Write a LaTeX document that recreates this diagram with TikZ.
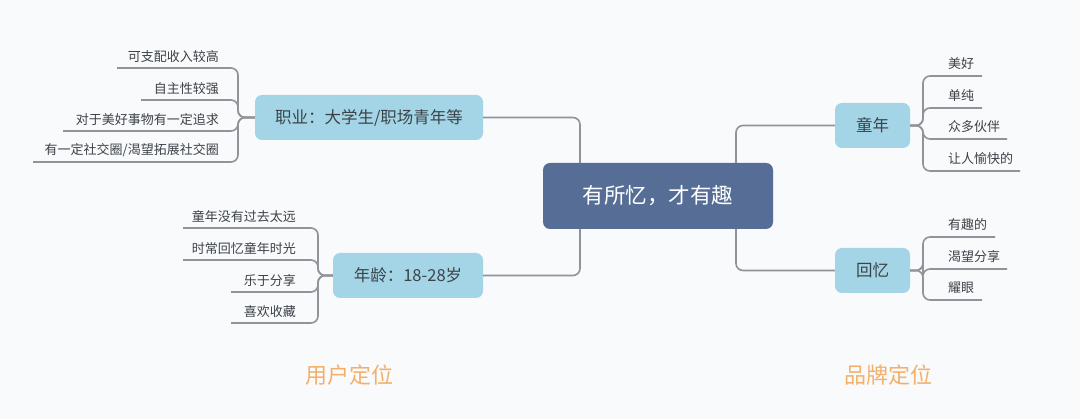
\documentclass[tikz,border=0pt]{standalone}
\usepackage{fontspec}
\setmainfont{Noto Sans CJK SC}
\begin{document}
\begin{tikzpicture}[x=1pt,y=-1pt,
  ln/.style={draw=lineg,line width=1.6pt,rounded corners=7pt},
  sub/.style={fill=subblue,rounded corners=7pt,font=\fontsize{16.5}{18}\selectfont,text=textg,inner sep=0pt},
  lf/.style={font=\fontsize{13}{14}\selectfont,text=textg,inner sep=0pt},
  lbl/.style={font=\fontsize{22}{24}\selectfont,text=orng}]
\definecolor{lineg}{HTML}{8E949A}
\definecolor{subblue}{HTML}{A3D5E6}
\definecolor{centb}{HTML}{566E95}
\definecolor{textg}{HTML}{3C4248}
\definecolor{orng}{HTML}{F4B06A}
\definecolor{bg}{HTML}{F8FAFC}
\fill[bg] (0,0) rectangle (1080,419);
\useasboundingbox (0,0) rectangle (1080,419);
% nodes
\node[sub,minimum width=228pt,minimum height=45pt] (job) at (369,117.5) {职业：大学生/职场青年等};
\node[sub,minimum width=150pt,minimum height=45pt] (age) at (408,275.5) {年龄：18-28岁};
\node[sub,minimum width=75pt,minimum height=45pt] (tn) at (872.5,125.5) {童年};
\node[sub,minimum width=75pt,minimum height=45pt] (hy) at (872.5,270.5) {回忆};
% trunks
\coordinate (cl) at (580,196);
\coordinate (cr) at (736,196);
\draw[ln] (cl) |- (job.east);
\draw[ln] (cl) |- (age.east);
\draw[ln] (cr) |- (tn.west);
\draw[ln] (cr) |- (hy.west);
\node[fill=centb,rounded corners=7pt,minimum width=230pt,minimum height=66pt,text=white,font=\fontsize{21.5}{24}\selectfont] (c) at (658,196) {有所忆，才有趣};
% left group 1
\coordinate (a1) at (117,68); \coordinate (a2) at (141,100); \coordinate (a3) at (63,131); \coordinate (a4) at (33,162);
\node[lf,anchor=south east] (t1) at (219,63) {可支配收入较高};
\node[lf,anchor=south east] (t2) at (219,95) {自主性较强};
\node[lf,anchor=south east] (t3) at (219,126) {对于美好事物有一定追求};
\node[lf,anchor=south east] (t4) at (219,157) {有一定社交圈/渴望拓展社交圈};
\foreach \i in {1,...,4} \draw[ln] (job.west) -- (238,117.5) |- (a\i);
% left group 2
\coordinate (b1) at (183,228); \coordinate (b2) at (183,260); \coordinate (b3) at (231,292); \coordinate (b4) at (231,323);
\node[lf,anchor=south east] (u1) at (296,223) {童年没有过去太远};
\node[lf,anchor=south east] (u2) at (296,255) {时常回忆童年时光};
\node[lf,anchor=south east] (u3) at (296,287) {乐于分享};
\node[lf,anchor=south east] (u4) at (296,318) {喜欢收藏};
\foreach \i in {1,...,4} \draw[ln] (age.west) -- (318,275.5) |- (b\i);
% right group 1
\coordinate (r1) at (982,76); \coordinate (r2) at (982,108); \coordinate (r3) at (1007,139); \coordinate (r4) at (1020,171);
\node[lf,anchor=south west] (v1) at (948,70) {美好};
\node[lf,anchor=south west] (v2) at (948,102) {单纯};
\node[lf,anchor=south west] (v3) at (948,133) {众多伙伴};
\node[lf,anchor=south west] (v4) at (948,165) {让人愉快的};
\foreach \i in {1,...,4} \draw[ln] (tn.east) -- (923,125.5) |- (r\i);
% right group 2
\coordinate (s1) at (995,237); \coordinate (s2) at (1007,269); \coordinate (s3) at (982,300);
\node[lf,anchor=south west] (w1) at (948,231) {有趣的};
\node[lf,anchor=south west] (w2) at (948,263) {渴望分享};
\node[lf,anchor=south west] (w3) at (948,294) {耀眼};
\foreach \i in {1,...,3} \draw[ln] (hy.east) -- (923,270.5) |- (s\i);
% labels
\node[lbl] (L1) at (349,375) {用户定位};
\node[lbl] (L2) at (888,375) {品牌定位};
\end{tikzpicture}
\end{document}
